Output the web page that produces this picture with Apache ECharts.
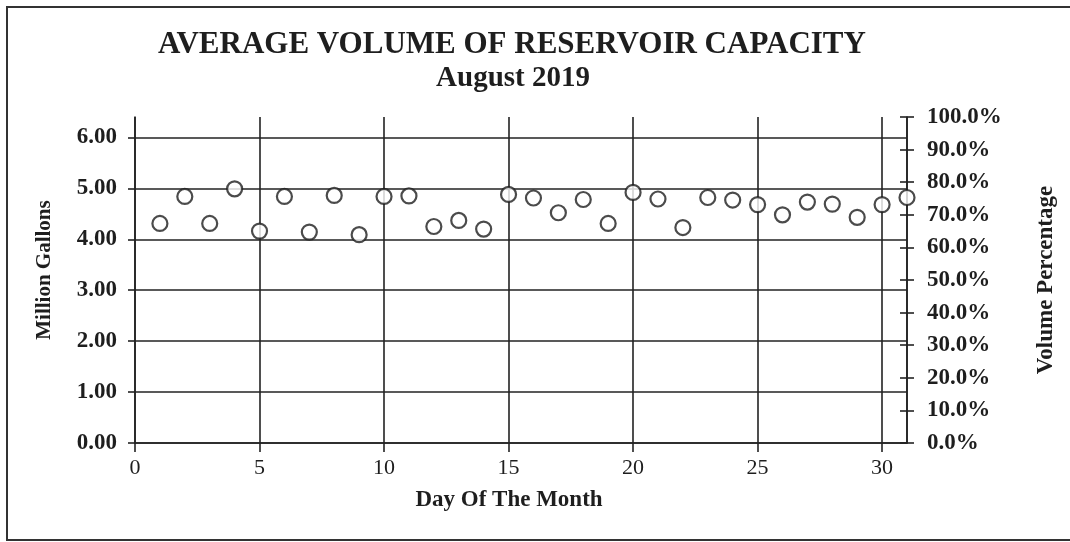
<!DOCTYPE html>
<html>
<head>
<meta charset="UTF-8">
<title>Reservoir Capacity</title>
<script src="https://cdn.jsdelivr.net/npm/echarts@6/dist/echarts.min.js"></script>
<style>
  html, body { margin: 0; padding: 0; background: #fff; }
  #main { width: 1070px; height: 542px; }
</style>
</head>
<body>
<div id="main"></div>
<script type="text/javascript">
// days of August 2019
var days = [1,2,3,4,5,6,7,8,9,10,11,12,13,14,15,16,17,18,19,20,21,22,23,24,25,26,27,28,29,30,31];
// average volume, million gallons
var volume = [4.31,4.84,4.31,4.99,4.16,4.84,4.14,4.86,4.09,4.84,4.85,4.25,4.37,4.20,4.88,4.81,
              4.52,4.78,4.31,4.92,4.79,4.23,4.82,4.77,4.68,4.48,4.73,4.69,4.43,4.68,4.82];
var titleText = 'AVERAGE VOLUME OF RESERVOIR CAPACITY';
var subText = 'August 2019';

var pts = [];
for (var i = 0; i < days.length; i++) {
    pts.push([days[i], volume[i]]);
}

var font = 'Liberation Serif';
var ink = '#222';

// 0..6 lines drawn, the extra line at 6.4 (top) hidden
var hLines = [ink, ink, ink, ink, ink, ink, ink, 'rgba(0,0,0,0)'];

var option = {
    backgroundColor: '#fff',
    animation: false,
    graphic: [
        {
            type: 'rect',
            shape: { x: 7, y: 7, width: 1080, height: 533 },
            style: { fill: 'none', stroke: '#333', lineWidth: 2 }
        },
        {
            type: 'text', x: 512, y: 29,
            style: { text: titleText, fontFamily: font, fontWeight: 'bold', fontSize: 31,
                     fill: '#1e1e1e', textAlign: 'center' }
        },
        {
            type: 'text', x: 513, y: 64,
            style: { text: subText, fontFamily: font, fontWeight: 'bold', fontSize: 29,
                     fill: '#1e1e1e', textAlign: 'center' }
        }
    ],
    grid: { left: 135, right: 163, top: 117, bottom: 99 },
    xAxis: {
        type: 'value',
        min: 0, max: 31, interval: 5,
        name: 'Day Of The Month',
        nameLocation: 'middle',
        nameGap: 46,
        nameTextStyle: { fontFamily: font, fontWeight: 'bold', fontSize: 23, color: '#1e1e1e',
                         padding: [0, 24, 0, 0] },
        axisLine: { lineStyle: { color: ink, width: 1.6 } },
        axisTick: { length: 9, lineStyle: { color: ink, width: 1.6 } },
        axisLabel: { showMaxLabel: false, margin: 14, fontFamily: font, fontSize: 22, color: '#1e1e1e' },
        splitLine: { show: true, lineStyle: { color: ink, width: 1.6 } }
    },
    yAxis: [
        {
            type: 'value',
            min: 0, max: 6.4, interval: 1,
            name: 'Million Gallons',
            nameLocation: 'middle',
            nameGap: 80,
            nameTextStyle: { fontFamily: font, fontWeight: 'bold', fontSize: 21, color: '#1e1e1e',
                             padding: [0, 0, 0, 20] },
            axisLine: { show: true, lineStyle: { color: ink, width: 1.6 } },
            axisTick: { show: true, length: 7, lineStyle: { color: ink, width: 1.6 } },
            axisLabel: {
                showMaxLabel: false, margin: 18,
                fontFamily: font, fontWeight: 'bold', fontSize: 23, color: '#1e1e1e',
                formatter: function (v) { return v.toFixed(2); }
            },
            splitLine: { show: true, lineStyle: { color: hLines, width: 1.6 } }
        },
        {
            type: 'value',
            position: 'right',
            min: 0, max: 100, interval: 10,
            name: 'Volume Percentage',
            nameLocation: 'middle',
            nameGap: 128,
            nameRotate: 90,
            nameTextStyle: { fontFamily: font, fontWeight: 'bold', fontSize: 23, color: '#1e1e1e' },
            axisLine: { show: true, lineStyle: { color: ink, width: 1.6 } },
            axisTick: { show: true, length: 7, lineStyle: { color: ink, width: 1.6 } },
            axisLabel: {
                margin: 20,
                fontFamily: font, fontWeight: 'bold', fontSize: 23, color: '#1e1e1e',
                formatter: function (v) { return v.toFixed(1) + '%'; }
            },
            splitLine: { show: false }
        },
        {
            // inner half of the crossing ticks on the right axis
            type: 'value',
            position: 'right',
            min: 0, max: 100, interval: 10,
            axisLine: { show: false },
            axisTick: { show: true, inside: true, length: 7, lineStyle: { color: ink, width: 1.6 } },
            axisLabel: { show: false },
            splitLine: { show: false }
        }
    ],
    series: [
        {
            type: 'scatter',
            xAxisIndex: 0,
            yAxisIndex: 0,
            data: pts,
            symbol: 'circle',
            symbolSize: 15,
            itemStyle: { color: '#fff', borderColor: '#1e1e1e', borderWidth: 2.2 }
        }
    ]
};

var myChart = echarts.init(document.getElementById('main'));
myChart.setOption(option);
</script>
</body>
</html>
